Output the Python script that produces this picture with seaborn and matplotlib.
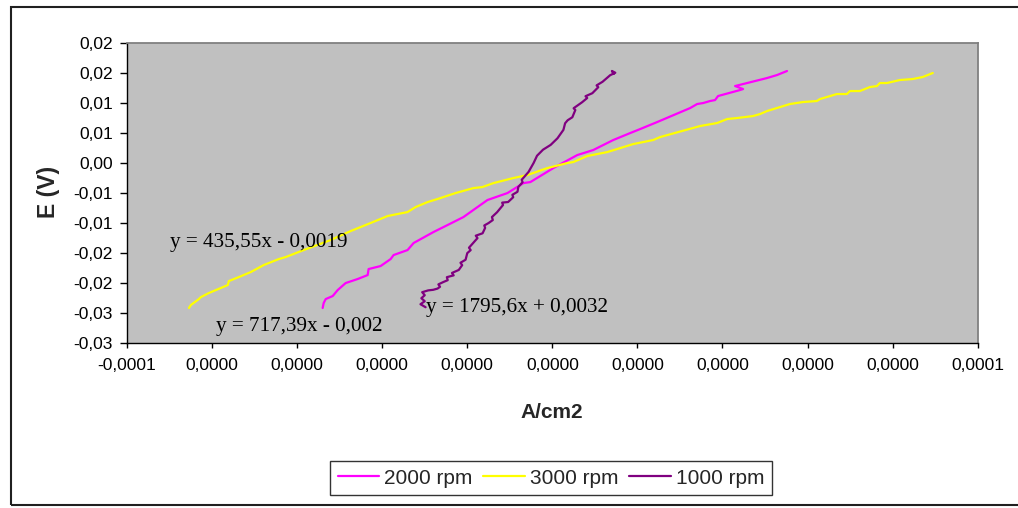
import numpy as np
import pandas as pd
import matplotlib
matplotlib.use("Agg")
import matplotlib.pyplot as plt
import seaborn as sns
from matplotlib.patches import Rectangle

# ---------------- data (current density in µA/cm2, potential in mV) ----------------
x_2000_uA = [-27.00, -26.88, -26.64, -25.82, -25.23, -24.30, -22.89, -21.71, -21.60, -20.19,
             -19.01, -18.66, -17.02, -16.31, -13.97, -12.32, -10.45, -8.80, -7.63, -5.28,
             -3.40, -2.58, 0.12, 2.93, 4.81, 7.16, 9.15, 10.33, 12.32, 16.20,
             17.02, 17.72, 18.54, 19.13, 19.48, 22.07, 22.42, 21.48, 22.89, 25.23,
             26.41, 27.58]
y_2000_mV = [-24.13, -23.30, -22.64, -22.14, -21.14, -19.98, -19.31, -18.65, -17.65, -17.15,
             -15.99, -15.32, -14.49, -13.32, -11.49, -10.33, -9.00, -7.34, -6.17, -5.01,
             -3.35, -3.18, -0.85, 1.31, 2.15, 3.81, 4.97, 5.64, 6.80, 9.13,
             9.80, 9.96, 10.30, 10.46, 11.13, 12.13, 12.29, 12.79, 13.29, 14.12,
             14.62, 15.29]

x_3000_uA = [-42.72, -42.49, -41.55, -41.31, -40.38, -38.15, -38.03, -36.85, -35.45, -33.92,
             -32.16, -31.34, -29.23, -26.06, -23.71, -21.36, -19.37, -17.02, -16.08, -14.67,
             -13.50, -11.38, -9.27, -8.22, -6.92, -4.58, -2.93, -0.59, 1.76, 2.46,
             4.11, 6.46, 9.51, 11.85, 12.68, 17.37, 19.37, 20.54, 21.71, 23.59,
             24.41, 25.23, 27.93, 29.46, 31.10, 31.46, 33.45, 34.62, 34.98, 36.15,
             37.32, 38.15, 38.50, 39.32, 40.85, 42.37, 43.54, 44.72]
y_3000_mV = [-24.13, -23.63, -22.64, -22.31, -21.64, -20.31, -19.65, -18.98, -18.15, -16.98,
             -15.99, -15.65, -14.49, -12.82, -11.33, -9.99, -8.83, -8.17, -7.34, -6.51,
             -6.00, -5.01, -4.18, -4.01, -3.35, -2.51, -2.01, -0.85, -0.02, 0.15,
             1.15, 1.81, 3.14, 3.81, 4.31, 6.14, 6.64, 7.30, 7.47, 7.80,
             8.13, 8.63, 9.80, 10.13, 10.30, 10.63, 11.46, 11.46, 11.96, 11.96,
             12.62, 12.79, 13.29, 13.29, 13.79, 13.96, 14.29, 14.96]

x_1000_uA = [-14.9, -15.5, -15.0, -15.4, -15.0, -15.3, -14.6, -14.0, -13.5, -13.2,
             -13.4, -12.8, -12.3, -12.4, -11.6, -11.8, -11.0, -10.6, -10.8, -10.2,
             -10.0, -9.6, -9.8, -9.3, -8.8, -9.0, -8.2, -7.9, -8.0, -7.5,
             -7.0, -7.1, -6.5, -5.8, -5.9, -5.2, -4.6, -4.7, -4.1, -4.0,
             -3.5, -3.6, -2.8, -2.2, -1.8, -1.1, -0.2, 0.6, 1.3, 1.5,
             1.8, 2.35, 2.7, 2.5, 3.5, 4.1, 3.9, 4.7, 5.4, 5.2,
             5.9, 6.8, 7.4, 7.0, 7.2]
y_1000_mV = [-24.0, -23.5, -23.0, -22.5, -22.0, -21.5, -21.2, -21.1, -20.9, -20.6,
             -20.2, -19.8, -19.5, -19.0, -18.7, -18.3, -17.8, -17.0, -16.6, -16.1,
             -15.0, -14.5, -14.1, -13.3, -12.5, -12.1, -11.7, -10.8, -10.4, -10.0,
             -9.5, -9.0, -8.2, -7.0, -6.6, -6.5, -5.7, -5.3, -4.8, -4.0,
             -3.2, -2.8, -1.5, 0.0, 1.2, 2.2, 3.0, 4.1, 5.5, 6.6,
             7.1, 7.6, 8.8, 9.1, 10.1, 10.8, 11.1, 11.6, 12.6, 12.9,
             13.5, 14.6, 15.0, 15.3, 14.8]

series_names = ['2000 rpm', '3000 rpm', '1000 rpm']
series_colors = ['#FF00FF', '#FFFF00', '#800080']

x_ticks = [-0.00005, -0.00004, -0.00003, -0.00002, -0.00001, 0.0,
           0.00001, 0.00002, 0.00003, 0.00004, 0.00005]
x_tick_labels = ['-0,0001', '0,0000', '0,0000', '0,0000', '0,0000', '0,0000',
                 '0,0000', '0,0000', '0,0000', '0,0000', '0,0001']
y_ticks = [-0.03, -0.025, -0.02, -0.015, -0.01, -0.005, 0.0, 0.005, 0.01, 0.015, 0.02]
y_tick_labels = ['-0,03', '-0,03', '-0,02', '-0,02', '-0,01', '-0,01', '0,00',
                 '0,01', '0,01', '0,02', '0,02']

equations = ['y = 435,55x - 0,0019', 'y = 717,39x - 0,002', 'y = 1795,6x + 0,0032']
x_label = 'A/cm2'
y_label = 'E (V)'

# ---------------- build long-form table ----------------
frames = []
for name, xs, ys in [(series_names[0], x_2000_uA, y_2000_mV),
                     (series_names[1], x_3000_uA, y_3000_mV),
                     (series_names[2], x_1000_uA, y_1000_mV)]:
    frames.append(pd.DataFrame({'x': np.array(xs) * 1e-6,
                                'y': np.array(ys) * 1e-3,
                                'series': name}))
df = pd.concat(frames, ignore_index=True)

# ---------------- styling ----------------
sns.set_style("ticks")
plt.rcParams['font.family'] = ['Liberation Sans', 'DejaVu Sans']

W, H = 1018, 508
fig = plt.figure(figsize=(W / 100, H / 100), dpi=100)
fig.patch.set_facecolor('white')

ax = fig.add_axes([127 / W, 1 - 343.3 / H, (977.7 - 127) / W, (343.3 - 42.7) / H])
ax.set_facecolor('#C0C0C0')

sns.lineplot(data=df, x='x', y='y', hue='series', hue_order=series_names,
             palette=series_colors, sort=False, estimator=None, linewidth=1.6,
             ax=ax, legend='brief')

handles, labels = ax.get_legend_handles_labels()
if ax.get_legend() is not None:
    ax.get_legend().remove()

ax.set_xlim(-0.00005, 0.00005)
ax.set_ylim(-0.03, 0.02)
ax.set_xticks(x_ticks)
ax.set_xticklabels(x_tick_labels)
ax.set_yticks(y_ticks)
ax.set_yticklabels(y_tick_labels)
ax.set_xlabel('')
ax.set_ylabel('')
ax.tick_params(axis='x', direction='out', length=3.6, width=1, pad=7, labelsize=12.5, colors='black')
ax.tick_params(axis='y', direction='out', length=5, width=1, pad=5, labelsize=12.5, colors='black')

for s in ['left', 'bottom']:
    ax.spines[s].set_color('black')
    ax.spines[s].set_linewidth(1.0)
for s in ['top', 'right']:
    ax.spines[s].set_visible(True)
    ax.spines[s].set_color('#808080')
    ax.spines[s].set_linewidth(1.3)

# trendline equations
eq_pos = [(-44.95e-6, -13.16e-3), (-39.55e-6, -27.13e-3), (-14.91e-6, -23.97e-3)]
for eq, (ex, ey) in zip(equations, eq_pos):
    ax.text(ex, ey, eq, family=['Liberation Serif', 'DejaVu Serif'], fontsize=15.2,
            ha='left', va='center', color='black')

# axis titles
fig.text(552 / W, 1 - 413 / H, x_label, ha='center', va='center',
         fontsize=15, fontweight='bold')
fig.text(49 / W, 1 - 192 / H, y_label, ha='center', va='center', rotation=90,
         fontsize=16.5, fontweight='bold')

# legend
leg = fig.legend(handles, labels, loc='center', bbox_to_anchor=(551 / W, 1 - 478 / H),
                 ncol=3, frameon=True, fancybox=False, fontsize=15,
                 handlelength=2.0, handletextpad=0.25, columnspacing=0.5,
                 borderpad=0.35, edgecolor='black')
leg.get_frame().set_linewidth(1.0)
for lh in leg.get_lines():
    lh.set_linewidth(1.6)

# outer chart border
fig.patches.append(Rectangle((11 / W, 1 - 505 / H), 1.2, (505 - 7) / H,
                             transform=fig.transFigure, fill=False,
                             edgecolor='#202020', linewidth=1.5, clip_on=False))

fig.savefig('out.png', dpi=100)
